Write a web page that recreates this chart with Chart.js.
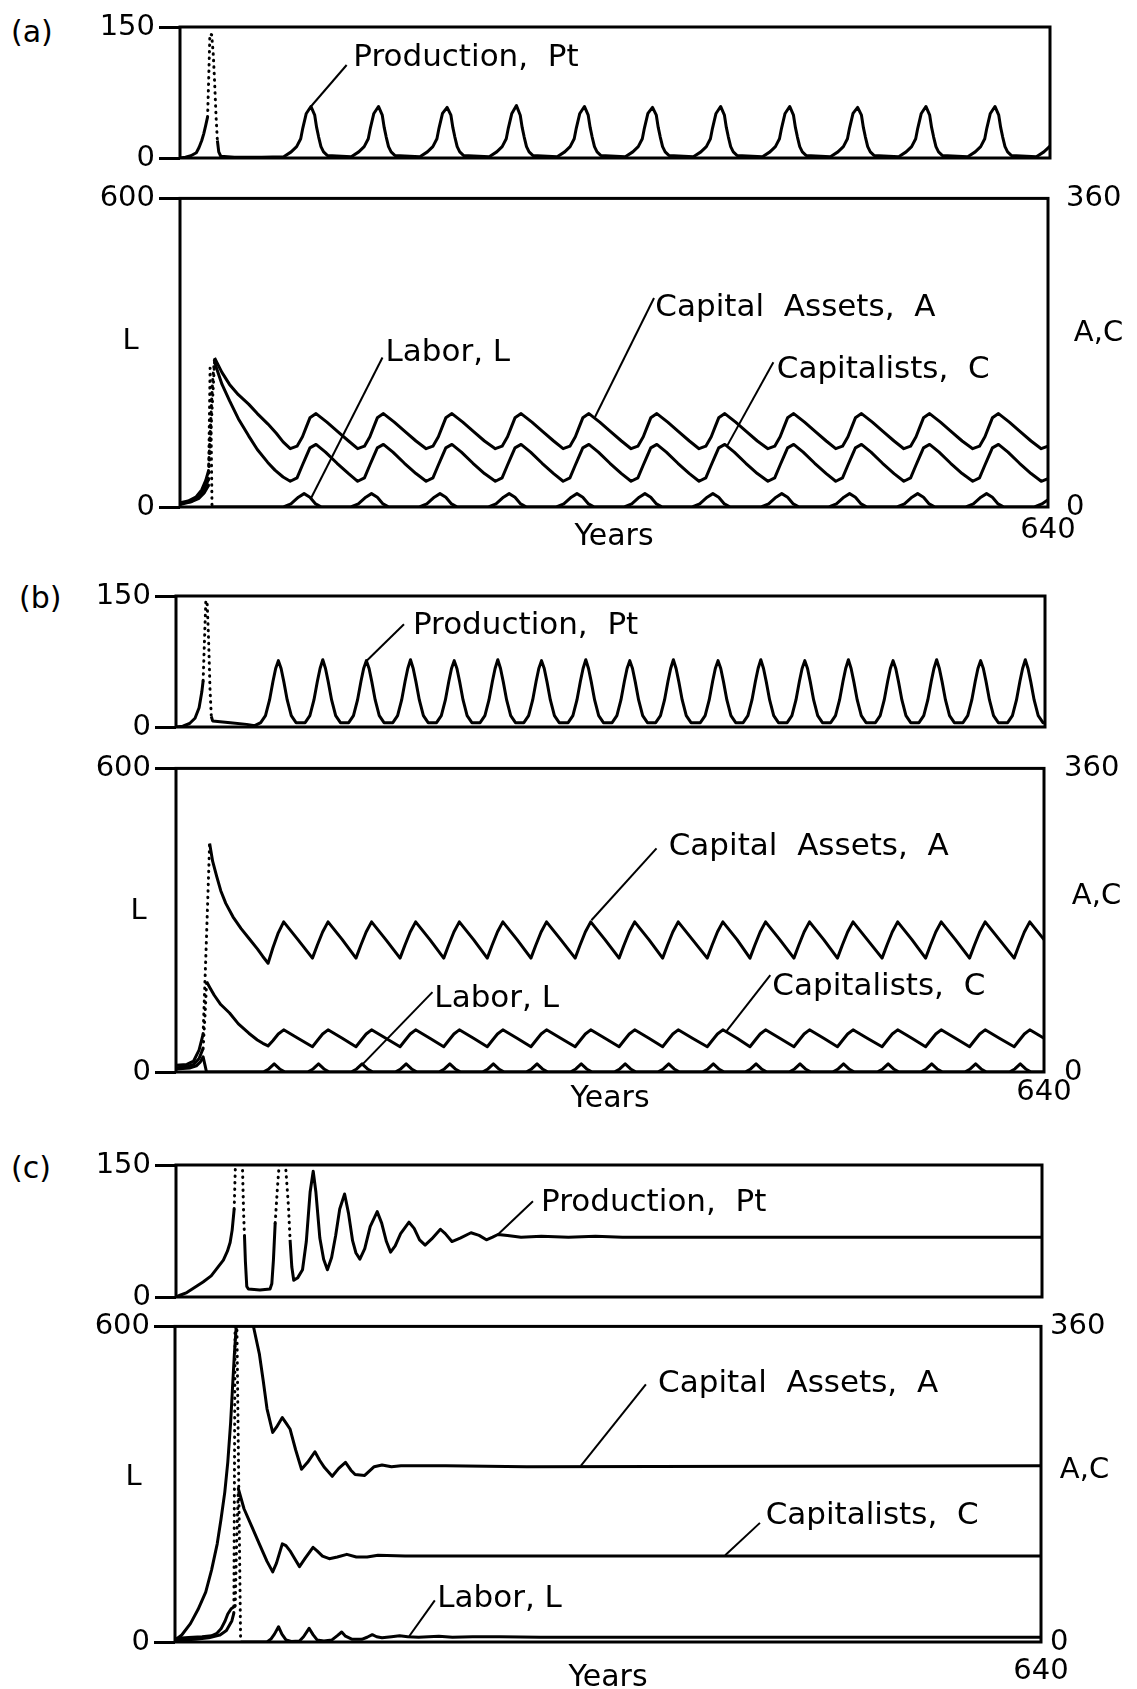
<!DOCTYPE html>
<html>
<head>
<meta charset="utf-8">
<script src="https://cdn.jsdelivr.net/npm/chart.js@4.4.1/dist/chart.umd.min.js"></script>
<style>
  body { margin: 0; background: #fff; width: 1137px; height: 1689px; position: relative; overflow: hidden; font-family: "DejaVu Sans", sans-serif; }
  canvas { position: absolute; left: 0; }
  .tag { position: absolute; font-size: 30px; line-height: 36px; height: 36px; color: #000; }
</style>
</head>
<body>
<div class="tag" style="left:11px;top:14px">(a)</div>
<div class="tag" style="left:19px;top:580px">(b)</div>
<div class="tag" style="left:11px;top:1150px">(c)</div>
<canvas id="aTop"></canvas>
<canvas id="aMain"></canvas>
<canvas id="bTop"></canvas>
<canvas id="bMain"></canvas>
<canvas id="cTop"></canvas>
<canvas id="cMain"></canvas>
<script>
// ---------- (a) ----------
const prodA = [
  [0,0],[4,1],[8,2.5],[12,6],[14,12],[16,20],[17.5,28],[19,38],[20.3,47],[24,null],[27.5,20],[28.5,7],[30,2],[40,1],[60,1],
  [76.3,1.5],[81.8,7],[85.8,13],[88.8,22],[90.3,34],[92.9,51],[96.3,59],[99.1,49],[100.5,35],[102,24],[103.7,13],[105.6,7],[108.3,3],
  [126,1.5],[131.5,7],[135.5,13],[138.5,22],[140,34],[142.6,51],[146,59],[148.8,49],[150.2,35],[151.7,24],[153.4,13],[155.3,7],[158,3],
  [176.5,1.5],[182,7],[186,13],[189,22],[190.5,34],[193.1,51],[196.5,58],[199.3,49],[200.7,35],[202.2,24],[203.9,13],[205.8,7],[208.5,3],
  [227.5,1.5],[233,7],[237,13],[240,22],[241.5,34],[244.1,51],[247.5,60],[250.3,49],[251.7,35],[253.2,24],[254.9,13],[256.8,7],[259.5,3],
  [277.5,1.5],[283,7],[287,13],[290,22],[291.5,34],[294.1,51],[297.5,59],[300.3,49],[301.7,35],[303.2,24],[304.9,13],[306.8,7],[309.5,3],
  [327.6,1.5],[333.1,7],[337.1,13],[340.1,22],[341.6,34],[344.2,51],[347.6,58],[350.4,49],[351.8,35],[353.3,24],[355,13],[356.9,7],[359.6,3],
  [377.7,1.5],[383.2,7],[387.2,13],[390.2,22],[391.7,34],[394.3,51],[397.7,59],[400.5,49],[401.9,35],[403.4,24],[405.1,13],[407,7],[409.7,3],
  [428.5,1.5],[434,7],[438,13],[441,22],[442.5,34],[445.1,51],[448.5,59],[451.3,49],[452.7,35],[454.2,24],[455.9,13],[457.8,7],[460.5,3],
  [478.5,1.5],[484,7],[488,13],[491,22],[492.5,34],[495.1,51],[498.5,58],[501.3,49],[502.7,35],[504.2,24],[505.9,13],[507.8,7],[510.5,3],
  [528.7,1.5],[534.2,7],[538.2,13],[541.2,22],[542.7,34],[545.3,51],[548.7,59],[551.5,49],[552.9,35],[554.4,24],[556.1,13],[558,7],[560.7,3],
  [579.5,1.5],[585,7],[589,13],[592,22],[593.5,34],[596.1,51],[599.5,59],[602.3,49],[603.7,35],[605.2,24],[606.9,13],[608.8,7],[611.5,3],
  [630,1.5],[635.5,7],[640,13.5]
];
const prodADots = [[20.3,47],[21.2,95],[22,142],[23.3,141],[24.5,118],[25.5,85],[26.5,48],[27.5,20]];

const assetsA = [
  [0,5],[6,7],[12,12],[16,20],[19,31],[21,42],[23,null],[25.5,174],[28,166],[30.9,157],[36.5,143],[43,131],[50.6,120],[57,109],[64.7,97],[71,86],[76,76],[81.3,68],
  [86.3,71],[90.3,82],[93.3,94],[95.8,104],[100.3,109],[108.3,99],[116.3,88],[124.3,77],[131,68],
  [136,71],[140,82],[143,94],[145.5,104],[150,109],[158,99],[166,88],[174,77],[181.5,68],
  [186.5,71],[190.5,82],[193.5,94],[196,104],[200.5,109],[208.5,99],[216.5,88],[224.5,77],[232.5,68],
  [237.5,71],[241.5,82],[244.5,94],[247,104],[251.5,109],[259.5,99],[267.5,88],[275.5,77],[282.5,68],
  [287.5,71],[291.5,82],[294.5,94],[297,104],[301.5,109],[309.5,99],[317.5,88],[325.5,77],[332.6,68],
  [337.6,71],[341.6,82],[344.6,94],[347.1,104],[351.6,109],[359.6,99],[367.6,88],[375.6,77],[382.7,68],
  [387.7,71],[391.7,82],[394.7,94],[397.2,104],[401.7,109],[409.7,99],[417.7,88],[425.7,77],[433.5,68],
  [438.5,71],[442.5,82],[445.5,94],[448,104],[452.5,109],[460.5,99],[468.5,88],[476.5,77],[483.5,68],
  [488.5,71],[492.5,82],[495.5,94],[498,104],[502.5,109],[510.5,99],[518.5,88],[526.5,77],[533.7,68],
  [538.7,71],[542.7,82],[545.7,94],[548.2,104],[552.7,109],[560.7,99],[568.7,88],[576.7,77],[584.5,68],
  [589.5,71],[593.5,82],[596.5,94],[599,104],[603.5,109],[611.5,99],[619.5,88],[627.5,77],[635,68],[640,71]
];
const assetsADots = [[21,42],[22.5,95],[24,145],[25.5,174]];

const capA = [
  [0,3],[8,6],[14,12],[18,22],[21,32],[23,null],[25.5,169],[28,157],[31,143],[36.5,124],[43,103],[50.6,83],[57,67],[64.7,52],[70,43],[76,35],[81.3,30],
  [86.3,34],[90.3,49],[93.3,60],[95.8,69],[100.3,73],[107.3,64],[115.8,51],[124.3,39],[131,30],
  [136,34],[140,49],[143,60],[145.5,69],[150,73],[157,64],[165.5,51],[174,39],[181.5,30],
  [186.5,34],[190.5,49],[193.5,60],[196,69],[200.5,73],[207.5,64],[216,51],[224.5,39],[232.5,30],
  [237.5,34],[241.5,49],[244.5,60],[247,69],[251.5,73],[258.5,64],[267,51],[275.5,39],[282.5,30],
  [287.5,34],[291.5,49],[294.5,60],[297,69],[301.5,73],[308.5,64],[317,51],[325.5,39],[332.6,30],
  [337.6,34],[341.6,49],[344.6,60],[347.1,69],[351.6,73],[358.6,64],[367.1,51],[375.6,39],[382.7,30],
  [387.7,34],[391.7,49],[394.7,60],[397.2,69],[401.7,73],[408.7,64],[417.2,51],[425.7,39],[433.5,30],
  [438.5,34],[442.5,49],[445.5,60],[448,69],[452.5,73],[459.5,64],[468,51],[476.5,39],[483.5,30],
  [488.5,34],[492.5,49],[495.5,60],[498,69],[502.5,73],[509.5,64],[518,51],[526.5,39],[533.7,30],
  [538.7,34],[542.7,49],[545.7,60],[548.2,69],[552.7,73],[559.7,64],[568.2,51],[576.7,39],[584.5,30],
  [589.5,34],[593.5,49],[596.5,60],[599,69],[603.5,73],[610.5,64],[619,51],[627.5,39],[635,30],[640,33]
];
const capADots = [[21,32],[23,95],[25.5,169]];

const laborA = [
  [0,8],[8,10],[14,17],[18,28],[21,42],[22,null],[23.6,0],[56,0],
  [76.3,0],[81.8,6],[87.3,19],[91.5,26],[95.8,19],[100,6],[104.3,0],
  [126,0],[131.5,6],[137,19],[141.2,26],[145.5,19],[149.7,6],[154,0],
  [176.5,0],[182,6],[187.5,19],[191.7,26],[196,19],[200.2,6],[204.5,0],
  [227.5,0],[233,6],[238.5,19],[242.7,26],[247,19],[251.2,6],[255.5,0],
  [277.5,0],[283,6],[288.5,19],[292.7,26],[297,19],[301.2,6],[305.5,0],
  [327.6,0],[333.1,6],[338.6,19],[342.8,26],[347.1,19],[351.3,6],[355.6,0],
  [377.7,0],[383.2,6],[388.7,19],[392.9,26],[397.2,19],[401.4,6],[405.7,0],
  [428.5,0],[434,6],[439.5,19],[443.7,26],[448,19],[452.2,6],[456.5,0],
  [478.5,0],[484,6],[489.5,19],[493.7,26],[498,19],[502.2,6],[506.5,0],
  [528.7,0],[534.2,6],[539.7,19],[543.9,26],[548.2,19],[552.4,6],[556.7,0],
  [579.5,0],[585,6],[590.5,19],[594.7,26],[599,19],[603.2,6],[607.5,0],
  [630,0],[635.5,6],[640,14]
];
const laborADots = [[21,42],[22.2,270],[22.9,150],[23.6,0]];

// ---------- (b) ----------
const prodB = [
  [0,0],[5,1],[10,4],[14,10],[17,22],[19,40],[20,53],[23,null],[26,12],[27,7],[40,5],[52,3],[58,1.5],
  [62.4,5],[65.9,13],[68.9,31],[71.4,52],[73.4,67],[75.4,76],[77.4,67],[79.4,52],[81.9,31],[84.9,13],[88.4,5],
  [95.1,5],[98.6,13],[101.6,31],[104.1,52],[106.1,67],[108.1,77],[110.1,67],[112.1,52],[114.6,31],[117.6,13],[121.1,5],
  [127.2,5],[130.7,13],[133.7,31],[136.2,52],[138.2,67],[140.2,76],[142.2,67],[144.2,52],[146.7,31],[149.7,13],[153.2,5],
  [159.7,5],[163.2,13],[166.2,31],[168.7,52],[170.7,67],[172.7,77],[174.7,67],[176.7,52],[179.2,31],[182.2,13],[185.7,5],
  [191.9,5],[195.4,13],[198.4,31],[200.9,52],[202.9,67],[204.9,76],[206.9,67],[208.9,52],[211.4,31],[214.4,13],[217.9,5],
  [224,5],[227.5,13],[230.5,31],[233,52],[235,67],[237,77],[239,67],[241,52],[243.5,31],[246.5,13],[250,5],
  [256.2,5],[259.7,13],[262.7,31],[265.2,52],[267.2,67],[269.2,76],[271.2,67],[273.2,52],[275.7,31],[278.7,13],[282.2,5],
  [288.8,5],[292.3,13],[295.3,31],[297.8,52],[299.8,67],[301.8,77],[303.8,67],[305.8,52],[308.3,31],[311.3,13],[314.8,5],
  [321.2,5],[324.7,13],[327.7,31],[330.2,52],[332.2,67],[334.2,76],[336.2,67],[338.2,52],[340.7,31],[343.7,13],[347.2,5],
  [353.3,5],[356.8,13],[359.8,31],[362.3,52],[364.3,67],[366.3,77],[368.3,67],[370.3,52],[372.8,31],[375.8,13],[379.3,5],
  [386.2,5],[389.7,13],[392.7,31],[395.2,52],[397.2,67],[399.2,76],[401.2,67],[403.2,52],[405.7,31],[408.7,13],[412.2,5],
  [417.7,5],[421.2,13],[424.2,31],[426.7,52],[428.7,67],[430.7,77],[432.7,67],[434.7,52],[437.2,31],[440.2,13],[443.7,5],
  [450.1,5],[453.6,13],[456.6,31],[459.1,52],[461.1,67],[463.1,76],[465.1,67],[467.1,52],[469.6,31],[472.6,13],[476.1,5],
  [482.2,5],[485.7,13],[488.7,31],[491.2,52],[493.2,67],[495.2,77],[497.2,67],[499.2,52],[501.7,31],[504.7,13],[508.2,5],
  [515.1,5],[518.6,13],[521.6,31],[524.1,52],[526.1,67],[528.1,76],[530.1,67],[532.1,52],[534.6,31],[537.6,13],[541.1,5],
  [547.2,5],[550.7,13],[553.7,31],[556.2,52],[558.2,67],[560.2,77],[562.2,67],[564.2,52],[566.7,31],[569.7,13],[573.2,5],
  [579.6,5],[583.1,13],[586.1,31],[588.6,52],[590.6,67],[592.6,76],[594.6,67],[596.6,52],[599.1,31],[602.1,13],[605.6,5],
  [612.5,5],[616,13],[619,31],[621.5,52],[623.5,67],[625.5,77],[627.5,67],[629.5,52],[632,31],[635,13],[638.5,5],[640,5]
];
const prodBDots = [[20,53],[21,100],[22,145],[23,140],[24,100],[25,45],[26,12]];

const assetsB = [
  [0,8],[8,9],[13,13],[17,26],[20,45],[22,null],[24.8,271],[27,250],[30,232],[33,215],[36.7,200],[42,184],[48,170],[54,158],[60,146],[64,137],[67.9,129],
  [71.4,147],[75.4,165],[79.4,178],[89.9,157],[100.6,135],
  [104.1,150],[108.1,166],[112.1,178],[122.6,157],[132.7,135],
  [136.2,150],[140.2,166],[144.2,178],[154.7,157],[165.2,135],
  [168.7,150],[172.7,166],[176.7,178],[187.2,157],[197.4,135],
  [200.9,150],[204.9,166],[208.9,178],[219.4,157],[229.5,135],
  [233,150],[237,166],[241,178],[251.5,157],[261.7,135],
  [265.2,150],[269.2,166],[273.2,178],[283.7,157],[294.3,135],
  [297.8,150],[301.8,166],[305.8,178],[316.3,157],[326.7,135],
  [330.2,150],[334.2,166],[338.2,178],[348.7,157],[358.8,135],
  [362.3,150],[366.3,166],[370.3,178],[380.8,157],[391.7,135],
  [395.2,150],[399.2,166],[403.2,178],[413.7,157],[423.2,135],
  [426.7,150],[430.7,166],[434.7,178],[445.2,157],[455.6,135],
  [459.1,150],[463.1,166],[467.1,178],[477.6,157],[487.7,135],
  [491.2,150],[495.2,166],[499.2,178],[509.7,157],[520.6,135],
  [524.1,150],[528.1,166],[532.1,178],[542.6,157],[552.7,135],
  [556.2,150],[560.2,166],[564.2,178],[574.7,157],[585.1,135],
  [588.6,150],[592.6,166],[596.6,178],[607.1,157],[618,135],
  [621.5,150],[625.5,166],[629.5,178],[640,157]
];
const assetsBDots = [[20,45],[22.5,160],[24.8,271]];

const capB = [
  [0,5],[8,6],[13,9],[17,16],[20,28],[21,null],[22.6,107],[25,100],[28.2,91],[33,80],[39.5,70],[46,57],[53.7,46],[60,38],[64,34],[67.9,31],
  [71.4,37],[75.4,45],[79.4,50],[89.9,40],[100.6,30],
  [104.1,37],[108.1,45],[112.1,50],[122.6,40],[132.7,30],
  [136.2,37],[140.2,45],[144.2,50],[154.7,40],[165.2,30],
  [168.7,37],[172.7,45],[176.7,50],[187.2,40],[197.4,30],
  [200.9,37],[204.9,45],[208.9,50],[219.4,40],[229.5,30],
  [233,37],[237,45],[241,50],[251.5,40],[261.7,30],
  [265.2,37],[269.2,45],[273.2,50],[283.7,40],[294.3,30],
  [297.8,37],[301.8,45],[305.8,50],[316.3,40],[326.7,30],
  [330.2,37],[334.2,45],[338.2,50],[348.7,40],[358.8,30],
  [362.3,37],[366.3,45],[370.3,50],[380.8,40],[391.7,30],
  [395.2,37],[399.2,45],[403.2,50],[413.7,40],[423.2,30],
  [426.7,37],[430.7,45],[434.7,50],[445.2,40],[455.6,30],
  [459.1,37],[463.1,45],[467.1,50],[477.6,40],[487.7,30],
  [491.2,37],[495.2,45],[499.2,50],[509.7,40],[520.6,30],
  [524.1,37],[528.1,45],[532.1,50],[542.6,40],[552.7,30],
  [556.2,37],[560.2,45],[564.2,50],[574.7,40],[585.1,30],
  [588.6,37],[592.6,45],[596.6,50],[607.1,40],[618,30],
  [621.5,37],[625.5,45],[629.5,50],[640,40]
];
const capBDots = [[20,28],[21.5,70],[22.6,107]];

const laborB = [
  [0,6],[10,8],[15,12],[18,20],[20,30],[21.5,12],[22.5,0],[60,0],
  [64.4,0],[68.4,6],[72.4,16],[76.4,6],[80.4,0],
  [97.1,0],[101.1,6],[105.1,16],[109.1,6],[113.1,0],
  [129.2,0],[133.2,6],[137.2,16],[141.2,6],[145.2,0],
  [161.7,0],[165.7,6],[169.7,16],[173.7,6],[177.7,0],
  [193.9,0],[197.9,6],[201.9,16],[205.9,6],[209.9,0],
  [226,0],[230,6],[234,16],[238,6],[242,0],
  [258.2,0],[262.2,6],[266.2,16],[270.2,6],[274.2,0],
  [290.8,0],[294.8,6],[298.8,16],[302.8,6],[306.8,0],
  [323.2,0],[327.2,6],[331.2,16],[335.2,6],[339.2,0],
  [355.3,0],[359.3,6],[363.3,16],[367.3,6],[371.3,0],
  [388.2,0],[392.2,6],[396.2,16],[400.2,6],[404.2,0],
  [419.7,0],[423.7,6],[427.7,16],[431.7,6],[435.7,0],
  [452.1,0],[456.1,6],[460.1,16],[464.1,6],[468.1,0],
  [484.2,0],[488.2,6],[492.2,16],[496.2,6],[500.2,0],
  [517.1,0],[521.1,6],[525.1,16],[529.1,6],[533.1,0],
  [549.2,0],[553.2,6],[557.2,16],[561.2,6],[565.2,0],
  [581.6,0],[585.6,6],[589.6,16],[593.6,6],[597.6,0],
  [614.5,0],[618.5,6],[622.5,16],[626.5,6],[630.5,0],[640,0]
];

// ---------- (c) ----------
const prodC = [
  [0,0],[3,2],[8,5],[14,11],[20,17],[26,24],[31,34],[35,42],[38,52],[40,62],[41.5,76],[43,100],[47,null],
  [50.6,70],[51.3,40],[52.3,12],[53.5,9],[62,8],[69.5,9],[70.8,15],[72,42],[73.3,84],[79,null],
  [84.3,65],[85.6,34],[87,19],[90,22],[93.5,31],[96.3,63],[99.1,119],[101.4,143],[103.4,119],[106.3,67],[109.1,43],[111.9,31],
  [115,45],[118,70],[121,100],[124.6,117],[127.5,95],[130.5,64],[133,50],[135.9,43],
  [139.5,55],[143.5,80],[148.7,97],[152,84],[155.5,63],[158.6,51],
  [162,58],[166,72],[172.2,85],[176,78],[180,65],[184.1,59],
  [189,66],[195.4,77],[199,72],[203.9,63],[210,67],[218,73],[224,70],[229.4,65],[234,68],[237.9,71],
  [245,70],[255,68],[270,69],[290,68],[310,69],[330,68],[640,68]
];
const prodCDots = [[43,100],[44,155],[49,155],[50,93],[50.6,70],[60,null],[73.3,84],[75,125],[76.5,155],[80.7,155],[83.1,103],[84.3,65]];

const assetsC = [
  [0,2],[5,8],[11.4,21],[17,37],[22.7,57],[27,82],[31.2,112],[34,140],[36.8,171],[39,205],[41.1,250],[42.5,290],[43.9,329],[45.3,361],[47,372],[55,372],
  [58.1,359],[62.3,329],[65.2,298],[68,266],[72.2,239],[75,245],[79.3,256],[82,250],[85,243],[89.2,219],[93.5,197],[98,205],[103.4,217],[107,207],[110.5,199],
  [116.2,189],[121,198],[126,205],[130,196],[133.1,191],[140.2,190],[147.2,200],[153,202],[160,200],[167,201],[200,201],[260,200],[640,201]
];

const capC = [
  [0,4],[10,5],[20,6],[27,7],[31,10],[34,15],[37,24],[39,32],[41.5,38],[44.5,41],[46,null],
  [46.8,175],[51,152],[56.7,132],[62.3,112],[68,92],[72.2,80],[75,90],[79.3,112],[82,110],[85,104],[88.5,95],[92,86],[96,95],[102,108],[105,104],[109,98],
  [114,95],[120,97],[127,100],[134,97],[142,97],[150,99],[170,98],[640,98]
];
const capCDots = [[44.5,41],[45.5,110],[46.8,175]];

const laborC = [
  [0,3],[15,5],[25,8],[33,13],[38,22],[42,40],[43.5,55],[46,null],[48.5,0],[68,0],
  [71,6],[73.5,15],[76.5,29],[79,15],[82,4],[86,1],[92,2],[95,10],[99.1,26],[102,14],[105,4],[110,2],
  [116,4],[120,12],[123.2,19],[126,11],[131,5],[138,5],[142,9],[145.8,14],[149,10],[153,8],
  [160,10],[166,12],[172,10],[180,9],[195,11],[205,9],[220,10],[240,10],[270,9],[640,9]
];
const laborCDots = [[43.5,55],[44.5,650],[45.5,650],[48.5,0]];

// tick ends
const yearMax = 640;
const prodMax = 150;
const laborMax = 600;
const capMax = 360;

// ---------- drawing ----------
Chart.defaults.font.family = '"DejaVu Sans", sans-serif';
Chart.defaults.color = '#000';
const W = 1137;

const framePlugin = {
  id: 'frame',
  afterDatasetsDraw(chart) {
    const { ctx, chartArea: a } = chart;
    ctx.save();
    ctx.strokeStyle = '#000';
    ctx.lineWidth = 3;
    ctx.strokeRect(a.left, a.top, a.right - a.left, a.bottom - a.top);
    ctx.restore();
  }
};

function notesPlugin(cfg) {
  return {
    id: 'notes',
    afterDraw(chart) {
      const ctx = chart.ctx, x = chart.scales.x;
      const yN = chart.scales[cfg.main ? 'yR' : 'y'];
      ctx.save();
      ctx.fillStyle = '#000';
      ctx.strokeStyle = '#000';
      (cfg.notes || []).forEach(n => {
        ctx.lineWidth = 2;
        ctx.beginPath();
        ctx.moveTo(x.getPixelForValue(n.from[0]), yN.getPixelForValue(n.from[1]));
        ctx.lineTo(x.getPixelForValue(n.to[0]), yN.getPixelForValue(n.to[1]));
        ctx.stroke();
        ctx.font = '31px "DejaVu Sans"';
        ctx.textAlign = 'left';
        ctx.textBaseline = 'middle';
        ctx.fillText(n.text, x.getPixelForValue(n.at[0]), yN.getPixelForValue(n.at[1]));
      });
      (cfg.side || []).forEach(s => {
        const sc = chart.scales[s.axis];
        const px = s.axis === 'y' ? chart.chartArea.left + s.dx : chart.chartArea.right + s.dx;
        ctx.font = '29px "DejaVu Sans"';
        ctx.textAlign = 'center';
        ctx.textBaseline = 'middle';
        ctx.fillText(s.text, px, sc.getPixelForValue(s.value));
      });
      ctx.restore();
    }
  };
}

function panel(id, box, cfg) {
  const padT = 24, padB = cfg.main ? 62 : 24;
  const cv = document.getElementById(id);
  cv.width = W;
  cv.height = box.b - box.t + padT + padB;
  cv.style.top = (box.t - padT) + 'px';

  const scales = {
    x: {
      type: 'linear', min: 0, max: yearMax, display: !!cfg.main,
      afterBuildTicks: s => { s.ticks = [{ value: yearMax }]; },
      afterFit: cfg.main ? (s => { s.height = padB; }) : undefined,
      grid: { display: false, drawTicks: false },
      border: { display: false },
      ticks: { padding: cfg.xPad || 0, font: { size: 29 }, maxRotation: 0, minRotation: 0, autoSkip: false },
      title: { display: !!cfg.main, text: 'Years', font: { size: 30 }, padding: { top: 0, bottom: cfg.titlePad || 0 } }
    },
    y: {
      type: 'linear', min: 0, max: cfg.yMax, position: 'left',
      afterBuildTicks: s => { s.ticks = [{ value: 0 }, { value: cfg.yMax }]; },
      afterFit: s => { s.width = box.l; },
      grid: { drawOnChartArea: false, tickLength: 21, lineWidth: 3, color: '#000' },
      border: { display: false },
      ticks: { padding: 4, font: { size: 29 } }
    }
  };
  if (cfg.main) {
    scales.yR = {
      type: 'linear', min: 0, max: capMax, position: 'right',
      afterBuildTicks: s => { s.ticks = [{ value: 0 }, { value: capMax }]; },
      afterFit: s => { s.width = W - box.r; },
      grid: { display: false, drawTicks: false },
      border: { display: false },
      ticks: { padding: cfg.rPad, font: { size: 29 } }
    };
  }

  const datasets = cfg.series.map(s => ({
    data: s.data,
    yAxisID: s.axis || 'y',
    borderColor: '#000',
    borderWidth: 3,
    borderDash: s.dots ? [0.5, 6] : [],
    borderCapStyle: s.dots ? 'round' : 'butt',
    borderJoinStyle: 'round',
    pointRadius: 0,
    tension: 0,
    fill: false,
    spanGaps: false
  }));

  new Chart(cv, {
    type: 'line',
    data: { datasets },
    options: {
      responsive: false,
      animation: false,
      devicePixelRatio: 1,
      events: [],
      layout: { padding: { top: padT, bottom: cfg.main ? 0 : padB, left: 0, right: cfg.main ? 0 : W - box.r } },
      scales,
      plugins: { legend: { display: false }, tooltip: { enabled: false } }
    },
    plugins: [framePlugin, notesPlugin(cfg)]
  });
}

// (a)
panel('aTop', { l: 180, r: 1050, t: 27, b: 158 }, {
  yMax: prodMax,
  series: [{ data: prodA }, { data: prodADots, dots: true }],
  notes: [{ text: 'Production,  Pt', at: [127.5, 114.5], from: [122.6, 106.5], to: [96.3, 59] }]
});
panel('aMain', { l: 180, r: 1048, t: 187, b: 507 }, {
  main: true, yMax: laborMax, xPad: 6, titlePad: 14, rPad: 18,
  series: [
    { data: assetsA, axis: 'yR' }, { data: assetsADots, axis: 'yR', dots: true },
    { data: capA, axis: 'yR' }, { data: capADots, axis: 'yR', dots: true },
    { data: laborA }, { data: laborADots, dots: true }
  ],
  notes: [
    { text: 'Capital  Assets,  A', at: [350.5, 232.5], from: [349.5, 243.8], to: [306, 105] },
    { text: 'Capitalists,  C', at: [440, 159.8], from: [437.5, 168.8], to: [403.3, 71] },
    { text: 'Labor, L', at: [151.5, 180], from: [149.3, 174.4], to: [96.5, 10] }
  ],
  side: [{ text: 'L', axis: 'y', value: 322, dx: -49.5 }, { text: 'A,C', axis: 'yR', value: 202, dx: 50.5 }]
});

// (b)
panel('bTop', { l: 176, r: 1045, t: 596, b: 727 }, {
  yMax: prodMax,
  series: [{ data: prodB }, { data: prodBDots, dots: true }],
  notes: [{ text: 'Production,  Pt', at: [174.5, 115.6], from: [167.9, 117.6], to: [139.7, 74.7] }]
});
panel('bMain', { l: 176, r: 1044, t: 755, b: 1072 }, {
  main: true, yMax: laborMax, xPad: 3, titlePad: 17, rPad: 20,
  series: [
    { data: assetsB, axis: 'yR' }, { data: assetsBDots, axis: 'yR', dots: true },
    { data: capB, axis: 'yR' }, { data: capBDots, axis: 'yR', dots: true },
    { data: laborB }
  ],
  notes: [
    { text: 'Capital  Assets,  A', at: [363.3, 267.1], from: [354.3, 265.1], to: [306.3, 179.9] },
    { text: 'Labor, L', at: [190.5, 86.6], from: [189.1, 94.7], to: [137.5, 9] },
    { text: 'Capitalists,  C', at: [439.7, 100.8], from: [438.2, 115], to: [405.2, 47] }
  ],
  side: [{ text: 'L', axis: 'y', value: 316.8, dx: -37.5 }, { text: 'A,C', axis: 'yR', value: 208.3, dx: 52.5 }]
});

// (c)
panel('cTop', { l: 176, r: 1042, t: 1165, b: 1297 }, {
  yMax: prodMax,
  series: [{ data: prodC }, { data: prodCDots, dots: true }],
  notes: [{ text: 'Production,  Pt', at: [269.8, 106.8], from: [263.8, 108.7], to: [237.9, 71] }]
});
panel('cMain', { l: 175, r: 1041, t: 1324, b: 1642 }, {
  main: true, yMax: laborMax, xPad: 12, titlePad: 8, rPad: 9,
  series: [
    { data: assetsC, axis: 'yR' },
    { data: capC, axis: 'yR' }, { data: capCDots, axis: 'yR', dots: true },
    { data: laborC }, { data: laborCDots, dots: true }
  ],
  notes: [
    { text: 'Capital  Assets,  A', at: [357, 293.9], from: [348, 293.9], to: [299.9, 201] },
    { text: 'Capitalists,  C', at: [436.5, 143.8], from: [432.3, 135.9], to: [406.6, 99] },
    { text: 'Labor, L', at: [193.8, 48.9], from: [192, 47.5], to: [172.8, 6] }
  ],
  side: [{ text: 'L', axis: 'y', value: 312, dx: -41.3 }, { text: 'A,C', axis: 'yR', value: 195.2, dx: 43.5 }]
});
</script>
</body>
</html>
